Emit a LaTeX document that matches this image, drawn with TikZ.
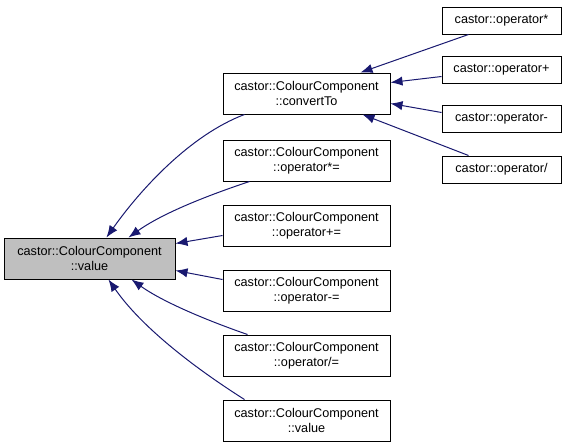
\documentclass[tikz,border=0pt]{standalone}
\usepackage{fontspec}
\setmainfont{Liberation Sans}
\usepackage{tikz}
\usetikzlibrary{arrows.meta, calc}

\definecolor{edgeblue}{HTML}{191970}
\definecolor{hlgray}{HTML}{BFBFBF}

\tikzset{
  fn/.style={draw=black, fill=white, align=center, inner sep=0pt,
    minimum width=125.25pt, minimum height=30.75pt, font=\fontsize{9.5}{11}\selectfont},
  opfn/.style={fn, minimum width=89.25pt, minimum height=20.25pt},
  edge/.style={draw=edgeblue, -{Latex[length=9pt,width=7pt]}}
}

\begin{document}
\begin{tikzpicture}[x=0.75pt, y=-0.75pt, line width=0.75pt]
\useasboundingbox (0,0) rectangle (567,447);

\node[fn, fill=hlgray, minimum width=128.25pt] (value) at (89.5,258.5) {castor::ColourComponent\\::value};

\node[fn] (convertTo) at (306.5,93.5) {castor::ColourComponent\\::convertTo};
\node[fn] (mulAssign) at (306.5,160.5) {castor::ColourComponent\\::operator*=};
\node[fn] (addAssign) at (306.5,225.5) {castor::ColourComponent\\::operator+=};
\node[fn] (subAssign) at (306.5,290.5) {castor::ColourComponent\\::operator-=};
\node[fn] (divAssign) at (306.5,355.5) {castor::ColourComponent\\::operator/=};
\node[fn] (valueB) at (306.5,420.5) {castor::ColourComponent\\::value};

\node[opfn] (opMul) at (501.5,20.5) {castor::operator*};
\node[opfn] (opAdd) at (501.5,69.5) {castor::operator+};
\node[opfn] (opSub) at (501.5,118.5) {castor::operator-};
\node[opfn] (opDiv) at (501.5,169.5) {castor::operator/};

% callers of value
\draw[edge] ($(convertTo.south west)+(22,0)$) .. controls (190,135) and (140,190) .. ($(value.north)+(17,0)$);
\draw[edge] ($(mulAssign.south west)+(27,0)$) .. controls (200,198) and (160,215) .. ($(value.north)+(39,0)$);
\draw[edge] ($(addAssign.west)+(0,10)$) -- ($(value.east)+(0,-15)$);
\draw[edge] ($(subAssign.west)+(0,-11)$) -- ($(value.east)+(0,12)$);
\draw[edge] ($(divAssign.north west)+(25,0)$) .. controls (200,318) and (160,300) .. ($(value.south)+(42,0)$);
\draw[edge] ($(valueB.north west)+(22,0)$) .. controls (190,365) and (140,325) .. ($(value.south)+(19,0)$);

% callers of convertTo
\draw[edge] ($(opMul.south west)+(27,0)$) -- ($(convertTo.north east)+(-30,0)$);
\draw[edge] ($(opAdd.west)+(0,7)$) -- ($(convertTo.east)+(0,-11)$);
\draw[edge] ($(opSub.west)+(0,-6)$) -- ($(convertTo.east)+(0,10)$);
\draw[edge] ($(opDiv.north west)+(27,0)$) -- ($(convertTo.south east)+(-28,0)$);
\end{tikzpicture}
\end{document}
